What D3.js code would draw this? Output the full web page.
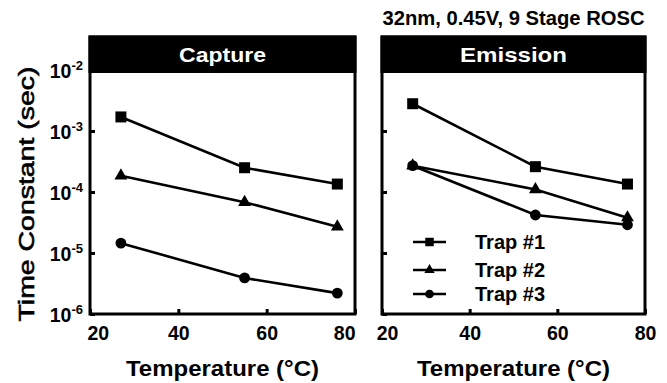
<!DOCTYPE html>
<html>
<head>
<meta charset="utf-8">
<script src="https://cdn.jsdelivr.net/npm/d3@7"></script>
<style>
  html, body { margin: 0; padding: 0; background: #fff; }
  svg { display: block; }
  text { font-family: "Liberation Sans", Arial, sans-serif; font-weight: bold; fill: #000; }
</style>
</head>
<body>
<svg id="chart" width="667" height="383"></svg>
<script>
// Measured trap time constants vs. temperature (32nm, 0.45V, 9-stage ring oscillator)
const temps = [27, 55, 76];
const captureTrap1 = [1.7e-3, 2.5e-4, 1.35e-4];
const captureTrap2 = [1.85e-4, 6.8e-5, 2.7e-5];
const captureTrap3 = [1.45e-5, 3.9e-6, 2.2e-6];
const emissionTrap1 = [2.8e-3, 2.6e-4, 1.35e-4];
const emissionTrap2 = [2.7e-4, 1.1e-4, 3.8e-5];
const emissionTrap3 = [2.7e-4, 4.2e-5, 2.9e-5];
const trapNames = ["Trap #1", "Trap #2", "Trap #3"];
const panelTitles = ["Capture", "Emission"];
const xTicks = [20, 40, 60, 80];
const yTicks = [1e-6, 1e-5, 1e-4, 1e-3, 1e-2];
const yTickExponents = ["-6", "-5", "-4", "-3", "-2"];
const chartTitle = "32nm, 0.45V, 9 Stage ROSC";
const xTitle = "Temperature (\u00B0C)";
const yTitle = "Time Constant (sec)";

const svg = d3.select("#chart");

const plotTop = 37, headerBottom = 73, yTopVal = 70, plotBottom = 314;
const panels = [
  { x0: 90, x1: 355, title: panelTitles[0], series: [captureTrap1, captureTrap2, captureTrap3], yLabels: true, edgeAnchors: true },
  { x0: 382, x1: 645, title: panelTitles[1], series: [emissionTrap1, emissionTrap2, emissionTrap3], yLabels: false, edgeAnchors: false, legend: true }
];

const y = d3.scaleLog().domain([1e-6, 1e-2]).range([plotBottom, yTopVal]);
const symbols = [
  d3.symbol().type(d3.symbolSquare).size(121),
  d3.symbol().type(d3.symbolTriangle).size(72),
  d3.symbol().type(d3.symbolCircle).size(92)
];
const legendSymbols = [
  d3.symbol().type(d3.symbolSquare).size(72),
  d3.symbol().type(d3.symbolTriangle).size(46),
  d3.symbol().type(d3.symbolCircle).size(60)
];

function stretch(sel, width) {
  sel.attr("textLength", width).attr("lengthAdjust", "spacingAndGlyphs");
}

panels.forEach((p) => {
  const x = d3.scaleLinear().domain([20, 80]).range([p.x0, p.x1]);
  const g = svg.append("g");

  // y axis: inward ticks, powers-of-ten labels
  const yAxis = g.append("g")
    .attr("transform", `translate(${p.x0},0)`)
    .call(d3.axisLeft(y).tickValues(yTicks).tickSizeInner(-5).tickSizeOuter(0).tickFormat(() => ""));
  yAxis.select(".domain").remove();
  yAxis.selectAll(".tick line").attr("stroke", "#000").attr("stroke-width", 3);
  if (p.yLabels) {
    yAxis.selectAll(".tick text").each(function (d, i) {
      const t = d3.select(this)
        .attr("x", -7).attr("dy", null).attr("y", 7)
        .attr("text-anchor", "end")
        .style("font-size", "19.5px");
      t.append("tspan").text("10");
      t.append("tspan").attr("dy", -8).style("font-size", "13px").text(yTickExponents[i]);
    });
  } else {
    yAxis.selectAll(".tick text").remove();
  }

  // x axis: inward ticks
  const xAxis = g.append("g")
    .attr("transform", `translate(0,${plotBottom})`)
    .call(d3.axisBottom(x).tickValues(xTicks).tickSizeInner(-5).tickSizeOuter(0).tickFormat(d3.format("d")));
  xAxis.select(".domain").remove();
  xAxis.selectAll(".tick line").attr("stroke", "#000").attr("stroke-width", 3);
  xAxis.selectAll(".tick text")
    .attr("y", 12).attr("dy", "0.71em")
    .style("font-size", "19.5px")
    .attr("text-anchor", (d, i) => p.edgeAnchors ? (i === 0 ? "start" : i === xTicks.length - 1 ? "end" : "middle") : "middle")
    .attr("dx", (d, i) => p.edgeAnchors ? (i === 0 ? -3 : 0) : (i === 0 ? 5 : 0));

  // series lines and markers
  const line = d3.line().x((d) => x(d[0])).y((d) => y(d[1]));
  p.series.forEach((vals, si) => {
    const pts = temps.map((t, i) => [t, vals[i]]);
    g.append("path").datum(pts)
      .attr("d", line).attr("fill", "none").attr("stroke", "#000").attr("stroke-width", 2.6);
    g.selectAll(null).data(pts).join("path")
      .attr("transform", (d) => `translate(${x(d[0])},${y(d[1])})`)
      .attr("d", symbols[si]).attr("fill", "#000");
  });

  // frame and title bar
  g.append("rect")
    .attr("x", p.x0).attr("y", plotTop)
    .attr("width", p.x1 - p.x0).attr("height", plotBottom - plotTop)
    .attr("fill", "none").attr("stroke", "#000").attr("stroke-width", 3);
  g.append("rect")
    .attr("x", p.x0 - 1.5).attr("y", plotTop - 1.5)
    .attr("width", p.x1 - p.x0 + 3).attr("height", headerBottom - plotTop + 1.5)
    .attr("fill", "#000");
  g.append("text")
    .attr("x", (p.x0 + p.x1) / 2).attr("y", 62)
    .attr("text-anchor", "middle")
    .style("font-size", "20.5px").style("fill", "#fff")
    .text(p.title)
    .call(stretch, p.title === "Capture" ? 87 : 107);

  // x title
  g.append("text")
    .attr("x", (p.x0 + p.x1) / 2).attr("y", 376)
    .attr("text-anchor", "middle")
    .style("font-size", "21.5px")
    .text(xTitle)
    .call(stretch, 193);

  if (p.legend) {
    const lg = g.append("g");
    const rows = [242, 270, 294];
    trapNames.forEach((name, i) => {
      lg.append("line")
        .attr("x1", 413).attr("x2", 446).attr("y1", rows[i]).attr("y2", rows[i])
        .attr("stroke", "#000").attr("stroke-width", 2.6);
      lg.append("path")
        .attr("transform", `translate(429.5,${rows[i]})`)
        .attr("d", legendSymbols[i]).attr("fill", "#000");
      lg.append("text")
        .attr("x", 475).attr("y", rows[i] + 7)
        .style("font-size", "20px")
        .text(name);
    });
  }
});

// chart title over the right panel
svg.append("text")
  .attr("x", 513.5).attr("y", 25)
  .attr("text-anchor", "middle")
  .style("font-size", "19.5px")
  .text(chartTitle)
  .call(stretch, 262);

// y axis title
svg.append("text")
  .attr("transform", "translate(34,194) rotate(-90)")
  .attr("text-anchor", "middle")
  .style("font-size", "22px")
  .style("font-weight", "normal")
  .style("stroke", "#000").style("stroke-width", 0.6)
  .text(yTitle)
  .call(stretch, 255);
</script>
</body>
</html>
